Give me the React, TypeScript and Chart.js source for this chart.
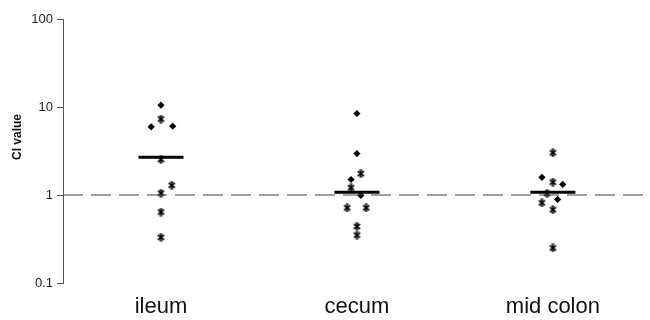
import React, { useEffect, useRef } from "react";
import { Chart, registerables } from "chart.js";

Chart.register(...registerables);

const categories = ["ileum", "cecum", "mid colon"];
const yTicks = [0.1, 1, 10, 100];

// diamond-marker points: values, category index (1-based), horizontal jitter (category units)
const diamondValues = [10.5, 5.96, 6.05, 8.44, 2.96, 1.5, 0.99, 1.59, 1.32, 0.89];
const diamondCats = [1, 1, 1, 2, 2, 2, 2, 3, 3, 3];
const diamondJitter = [0, -0.05, 0.06, 0, 0, -0.03, 0.02, -0.056, 0.05, 0.024];

// star-marker points
const starValues = [7.3, 2.53, 1.05, 1.29, 0.64, 0.33, 1.75, 1.21, 0.715, 0.715, 0.44, 0.35, 3.02, 1.4, 1.04, 0.815, 0.68, 0.25];
const starCats = [1, 1, 1, 1, 1, 1, 2, 2, 2, 2, 2, 2, 3, 3, 3, 3, 3, 3];
const starJitter = [0, 0, 0, 0.055, 0, 0, 0.02, -0.03, -0.05, 0.047, 0, 0, 0, 0, -0.03, -0.056, 0, 0];

// mean (bar) per category
const meanValues = [2.69, 1.076, 1.076];
const meanHalfWidth = 0.115;

const referenceLine = 1;

function makeStar(): HTMLCanvasElement {
  const c = document.createElement("canvas");
  c.width = 9;
  c.height = 9;
  const g = c.getContext("2d")!;
  g.strokeStyle = "#000";
  g.lineCap = "butt";
  g.lineWidth = 1.7;
  g.beginPath();
  g.moveTo(1.5, 2);
  g.lineTo(7.5, 7);
  g.moveTo(7.5, 2);
  g.lineTo(1.5, 7);
  g.stroke();
  g.lineWidth = 1.2;
  g.beginPath();
  g.moveTo(3, 1);
  g.lineTo(6, 1);
  g.moveTo(3, 8);
  g.lineTo(6, 8);
  g.moveTo(4.5, 1);
  g.lineTo(4.5, 8);
  g.stroke();
  return c;
}

export default function App() {
  const ref = useRef<HTMLCanvasElement | null>(null);

  useEffect(() => {
    document.body.style.margin = "0";
    const starImg = makeStar();

    const diamonds = diamondValues.map((v, i) => ({ x: diamondCats[i] + diamondJitter[i], y: v }));
    const stars = starValues.map((v, i) => ({ x: starCats[i] + starJitter[i], y: v }));
    const meanSets = meanValues.map((m, i) => ({
      type: "line" as const,
      data: [
        { x: i + 1 - meanHalfWidth, y: m },
        { x: i + 1 + meanHalfWidth, y: m },
      ],
      borderColor: "#000",
      borderWidth: 3,
      pointRadius: 0,
      showLine: true,
      fill: false,
    }));

    const titlePlugin = {
      id: "ytitle",
      afterDraw(chart: any) {
        const ctx = chart.ctx;
        ctx.save();
        ctx.translate(18, 137);
        ctx.rotate(-Math.PI / 2);
        ctx.font = "bold 12px 'Liberation Sans', Arial, sans-serif";
        ctx.fillStyle = "#111";
        ctx.textAlign = "center";
        ctx.textBaseline = "middle";
        ctx.fillText("CI value", 0, 0);
        ctx.restore();
      },
    };

    const chart = new Chart(ref.current!, {
      type: "scatter",
      data: {
        datasets: [
          {
            type: "line",
            data: [
              { x: 0.5, y: referenceLine },
              { x: 3.47, y: referenceLine },
            ],
            borderColor: "#444",
            borderWidth: 1.2,
            borderDash: [20, 8],
            pointRadius: 0,
            showLine: true,
            fill: false,
          } as any,
          ...(meanSets as any[]),
          {
            data: diamonds,
            pointStyle: "rectRot",
            pointRadius: 3.6,
            backgroundColor: "#000",
            borderColor: "#000",
            borderWidth: 0,
          },
          {
            data: stars,
            pointStyle: starImg,
            pointRadius: 4,
          } as any,
        ],
      },
      options: {
        animation: false,
        responsive: false,
        layout: { padding: { top: 19, left: 0, right: 0, bottom: 0 } },
        plugins: { legend: { display: false }, tooltip: { enabled: false } },
        scales: {
          x: {
            type: "linear",
            min: 0.5,
            max: 3.47,
            afterBuildTicks: (s: any) => {
              s.ticks = categories.map((_, i) => ({ value: i + 1 }));
            },
            afterFit: (s: any) => {
              s.height = 37;
            },
            ticks: {
              autoSkip: false,
              maxRotation: 0,
              padding: 11,
              color: "#111",
              font: { family: "'Liberation Sans', Arial, sans-serif", size: 22 },
              callback: (v: any) => categories[Math.round(Number(v)) - 1] ?? "",
            },
            grid: { display: false, drawTicks: false },
            border: { display: false },
          },
          y: {
            type: "logarithmic",
            min: 0.1,
            max: 100,
            afterBuildTicks: (s: any) => {
              s.ticks = yTicks.map((v) => ({ value: v }));
            },
            afterFit: (s: any) => {
              s.width = 63;
            },
            ticks: {
              padding: 4,
              color: "#222",
              font: { family: "'Liberation Sans', Arial, sans-serif", size: 13 },
              callback: (v: any) => String(v),
            },
            grid: { display: true, drawOnChartArea: false, drawTicks: true, tickLength: 6, color: "#555" },
            border: { display: true, color: "#555", width: 1 },
          },
        },
      },
      plugins: [titlePlugin],
    });
    return () => chart.destroy();
  }, []);

  return (
    <div style={{ width: 650, height: 320, background: "#fff" }}>
      <canvas ref={ref} width={650} height={320} style={{ width: 650, height: 320, display: "block" }} />
    </div>
  );
}
